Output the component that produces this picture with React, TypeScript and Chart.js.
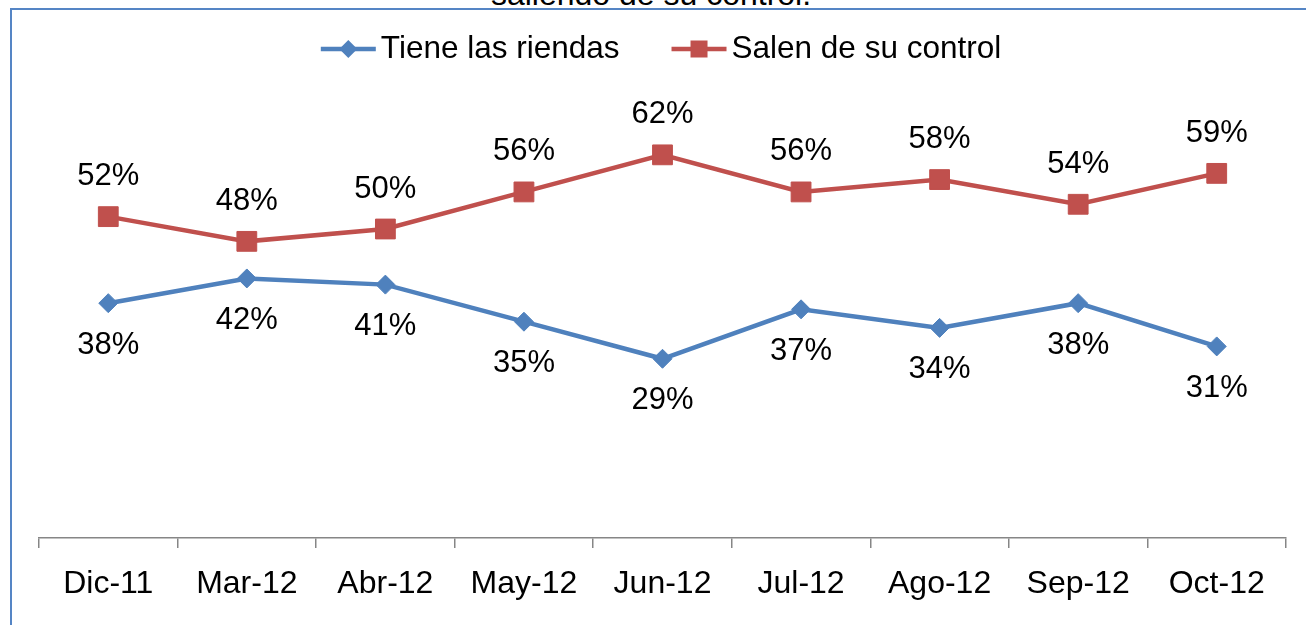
import React, { useEffect, useRef } from "react";
import { Chart, registerables } from "chart.js";

Chart.register(...registerables);

const categories = ["Dic-11", "Mar-12", "Abr-12", "May-12", "Jun-12", "Jul-12", "Ago-12", "Sep-12", "Oct-12"];
const tieneLasRiendas = [38, 42, 41, 35, 29, 37, 34, 38, 31];
const salenDeSuControl = [52, 48, 50, 56, 62, 56, 58, 54, 59];
const seriesNames = ["Tiene las riendas", "Salen de su control"];
const titleFragment = "saliendo de su control.";

const BLUE = "#4F81BD";
const RED = "#C0504D";
const FONT = "'Liberation Sans', Arial, sans-serif";

const labelPlugin = {
  id: "pctLabels",
  afterDatasetsDraw(chart: any) {
    const ctx = chart.ctx;
    ctx.save();
    ctx.font = `31px ${FONT}`;
    ctx.fillStyle = "#000";
    ctx.textAlign = "center";
    ctx.textBaseline = "middle";
    chart.data.datasets.forEach((ds: any, di: number) => {
      const meta = chart.getDatasetMeta(di);
      const off = di === 0 ? 42 : -40;
      meta.data.forEach((pt: any, i: number) => {
        ctx.fillText(`${ds.data[i]}%`, pt.x, pt.y + off);
      });
    });
    ctx.restore();
  },
};

const legendPlugin = {
  id: "customLegend",
  afterDraw(chart: any) {
    const ctx = chart.ctx;
    ctx.save();
    ctx.font = `31.5px ${FONT}`;
    const lineLen = 55;
    const textGap = 5;
    const itemGap = 52;
    const cy = 49;
    const centerX = 661;
    const items = chart.data.datasets.map((ds: any) => ({
      ds,
      w: lineLen + textGap + ctx.measureText(ds.label).width,
    }));
    const total = items.reduce((s: number, it: any) => s + it.w, 0) + itemGap * (items.length - 1);
    let x = centerX - total / 2;
    items.forEach((it: any) => {
      const ds = it.ds;
      ctx.strokeStyle = ds.borderColor;
      ctx.lineWidth = 4.5;
      ctx.beginPath();
      ctx.moveTo(x, cy);
      ctx.lineTo(x + lineLen, cy);
      ctx.stroke();
      const mx = x + lineLen / 2;
      ctx.fillStyle = ds.borderColor;
      ctx.beginPath();
      if (ds.pointStyle === "rectRot") {
        const r = 9;
        ctx.moveTo(mx, cy - r);
        ctx.lineTo(mx + r, cy);
        ctx.lineTo(mx, cy + r);
        ctx.lineTo(mx - r, cy);
        ctx.closePath();
      } else {
        const s = 8.5;
        ctx.rect(mx - s, cy - s, 2 * s, 2 * s);
      }
      ctx.fill();
      ctx.fillStyle = "#000";
      ctx.textAlign = "left";
      ctx.textBaseline = "middle";
      ctx.fillText(ds.label, x + lineLen + textGap, cy);
      x += it.w + itemGap;
    });
    ctx.restore();
  },
};

export default function App() {
  const ref = useRef<HTMLCanvasElement | null>(null);

  useEffect(() => {
    if (!ref.current) return;
    const chart = new Chart(ref.current, {
      type: "line",
      data: {
        labels: categories,
        datasets: [
          {
            label: seriesNames[0],
            data: tieneLasRiendas,
            borderColor: BLUE,
            backgroundColor: BLUE,
            borderWidth: 4.5,
            pointStyle: "rectRot",
            pointRadius: 9.5,
            pointBorderWidth: 1,
            pointBackgroundColor: BLUE,
            pointBorderColor: BLUE,
            tension: 0,
            fill: false,
          },
          {
            label: seriesNames[1],
            data: salenDeSuControl,
            borderColor: RED,
            backgroundColor: RED,
            borderWidth: 4.5,
            pointStyle: "rect",
            pointRadius: 14,
            pointBorderWidth: 1,
            pointBackgroundColor: RED,
            pointBorderColor: RED,
            tension: 0,
            fill: false,
          },
        ],
      },
      options: {
        responsive: false,
        animation: false,
        devicePixelRatio: 1,
        layout: { padding: { left: 39, right: 20, top: 105.4, bottom: 0 } },
        plugins: {
          legend: { display: false },
          tooltip: { enabled: false },
          title: { display: false },
        },
        scales: {
          x: {
            offset: true,
            afterFit: (scale: any) => {
              scale.height = 87;
            },
            grid: {
              display: true,
              drawOnChartArea: false,
              drawTicks: true,
              tickLength: 10,
              color: "#868686",
              lineWidth: 1.5,
              offset: true,
            },
            border: { display: true, color: "#868686", width: 1.5 },
            ticks: {
              color: "#000",
              padding: 17,
              maxRotation: 0,
              autoSkip: false,
              font: { size: 32, family: FONT },
            },
          },
          y: {
            display: false,
            min: 0,
            max: 70,
          },
        },
      },
      plugins: [labelPlugin, legendPlugin],
    });
    return () => chart.destroy();
  }, []);

  return (
    <div
      style={{
        position: "fixed",
        left: 0,
        top: 0,
        width: 1306,
        height: 625,
        overflow: "hidden",
        background: "#fff",
      }}
    >
      <div
        style={{
          position: "absolute",
          left: 10,
          top: 8,
          width: 1400,
          height: 800,
          border: "2px solid #5585C5",
          boxSizing: "border-box",
        }}
      />
      <div
        style={{
          position: "absolute",
          left: 0,
          width: 1302,
          top: -21,
          textAlign: "center",
          fontFamily: FONT,
          fontSize: 32,
          lineHeight: "31px",
          color: "#000",
          whiteSpace: "nowrap",
        }}
      >
        {titleFragment}
      </div>
      <canvas
        ref={ref}
        width={1306}
        height={625}
        style={{ position: "absolute", left: 0, top: 0, width: 1306, height: 625 }}
      />
    </div>
  );
}
